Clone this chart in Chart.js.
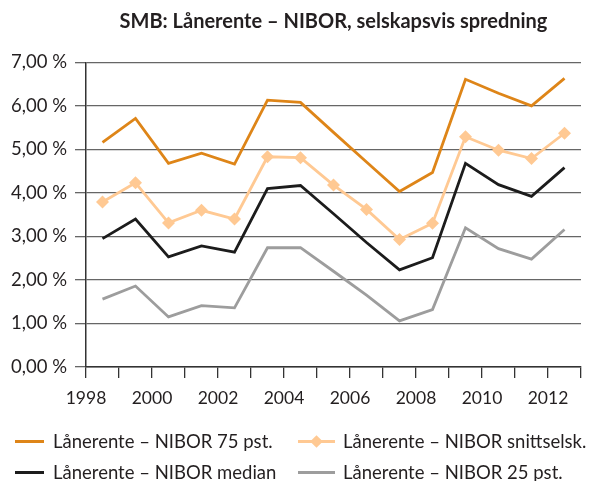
<!DOCTYPE html>
<html>
<head>
<meta charset="utf-8">
<script src="https://cdn.jsdelivr.net/npm/chart.js@4.4.1/dist/chart.umd.min.js"></script>
<style>
  html, body { margin: 0; padding: 0; background: #fff; }
  #wrap { position: relative; width: 591px; height: 481px; }
  #c { position: absolute; left: 0; top: 0; }
  #legend { position: absolute; left: 15px; top: 428px; display: grid;
    grid-template-columns: 283px 293px; grid-auto-rows: 31px;
    font-family: Lato, sans-serif; font-size: 18.5px; color: #231f20; }
  .item { display: flex; align-items: center; height: 26px; white-space: nowrap; }
  .mark { position: relative; height: 26px; flex: none; }
  .mark .ln { position: absolute; left: 0; right: 0; top: 11.5px; height: 3px; }
  .mark .dm { position: absolute; width: 9px; height: 9px; top: 8.5px; left: 50%; margin-left: -4.5px; transform: rotate(45deg); }
  .col1 .mark { width: 29px; margin-right: 9px; }
  .col2 .mark { width: 37px; margin-right: 8px; }
</style>
</head>
<body>
<div id="wrap">
  <canvas id="c" width="591" height="481"></canvas>
  <div id="legend"></div>
</div>
<script>
const titleText = 'SMB: Lånerente – NIBOR, selskapsvis spredning';
const years = [1998, 1999, 2000, 2001, 2002, 2003, 2004, 2005, 2006, 2007, 2008, 2009, 2010, 2011, 2012];
const seriesNames = ['Lånerente – NIBOR 75 pst.', 'Lånerente – NIBOR snittselsk.', 'Lånerente – NIBOR median', 'Lånerente – NIBOR 25 pst.'];
const p75    = [5.16, 5.71, 4.68, 4.91, 4.66, 6.13, 6.08, 5.39, 4.71, 4.03, 4.47, 6.61, 6.29, 6.00, 6.63];
const snitt  = [3.79, 4.23, 3.31, 3.60, 3.40, 4.83, 4.81, 4.18, 3.62, 2.93, 3.30, 5.29, 4.98, 4.79, 5.37];
const median = [2.95, 3.40, 2.53, 2.78, 2.64, 4.10, 4.17, 3.52, 2.86, 2.23, 2.51, 4.68, 4.19, 3.92, 4.58];
const p25    = [1.56, 1.86, 1.15, 1.41, 1.36, 2.74, 2.74, 2.20, 1.65, 1.06, 1.32, 3.20, 2.72, 2.48, 3.16];
const yTicks = [0, 1, 2, 3, 4, 5, 6, 7];
const xLabelYears = [1998, 2000, 2002, 2004, 2006, 2008, 2010, 2012];

const colors = ['#de8518', '#ffc993', '#1c1c1c', '#9d9d9d'];
const txt = '#231f20';

function pts(arr) { return arr.map((v, i) => ({ x: years[i] + 0.5, y: v })); }

const datasets = [p75, snitt, median, p25].map((arr, i) => ({
  label: seriesNames[i],
  data: pts(arr),
  borderColor: colors[i],
  backgroundColor: colors[i],
  borderWidth: 2.8,
  tension: 0,
  pointStyle: i === 1 ? 'rectRot' : 'circle',
  pointRadius: i === 1 ? 6.5 : 0,
  pointHoverRadius: i === 1 ? 6.5 : 0,
  pointBorderWidth: 0,
  order: [3, 2, 1, 0][i]
}));

const chart = new Chart(document.getElementById('c'), {
  type: 'line',
  data: { datasets },
  options: {
    responsive: false,
    animation: false,
    layout: { padding: { left: 0, right: 4, top: 0, bottom: 74 } },
    plugins: {
      legend: { display: false },
      tooltip: { enabled: false },
      title: {
        display: true,
        text: titleText,
        fullSize: false,
        color: txt,
        font: { family: 'Lato', size: 20, weight: 'bold', lineHeight: 1.2 },
        padding: { top: 10, bottom: 28.3 }
      }
    },
    scales: {
      x: {
        type: 'linear',
        min: years[0],
        max: years[years.length - 1] + 1,
        afterBuildTicks: s => { s.ticks = years.concat([years[years.length - 1] + 1]).map(v => ({ value: v })); },
        afterFit: s => { s.height = 40; },
        grid: { drawOnChartArea: false, drawTicks: true, tickLength: 11, color: '#333', lineWidth: 1.3 },
        border: { display: true, color: '#333', width: 1.5 },
        ticks: {
          autoSkip: false, maxRotation: 0, padding: 10, color: txt,
          font: { family: 'Lato', size: 17.5 },
          callback: v => xLabelYears.includes(v) ? String(v) : ''
        }
      },
      y: {
        min: 0, max: 7,
        afterBuildTicks: s => { s.ticks = yTicks.map(v => ({ value: v })); },
        afterFit: s => { s.width = 86; },
        grid: { color: '#666', lineWidth: 1.3, tickLength: 11, drawTicks: true },
        border: { display: true, color: '#333', width: 1.5 },
        ticks: {
          padding: 8, color: txt,
          font: { family: 'Lato', size: 18.5 },
          callback: v => v.toFixed(2).replace('.', ',') + ' %'
        }
      }
    }
  }
});

// HTML legend built from the chart's datasets (2 x 2 grid)
const legend = document.getElementById('legend');
chart.data.datasets.forEach((ds, i) => {
  const item = document.createElement('div');
  item.className = 'item ' + (i % 2 === 0 ? 'col1' : 'col2');
  const mark = document.createElement('span');
  mark.className = 'mark';
  const ln = document.createElement('span');
  ln.className = 'ln';
  ln.style.background = ds.borderColor;
  mark.appendChild(ln);
  if (ds.pointRadius > 0) {
    const dm = document.createElement('span');
    dm.className = 'dm';
    dm.style.background = ds.backgroundColor;
    mark.appendChild(dm);
  }
  const t = document.createElement('span');
  t.textContent = ds.label;
  item.appendChild(mark);
  item.appendChild(t);
  legend.appendChild(item);
});
</script>
</body>
</html>
